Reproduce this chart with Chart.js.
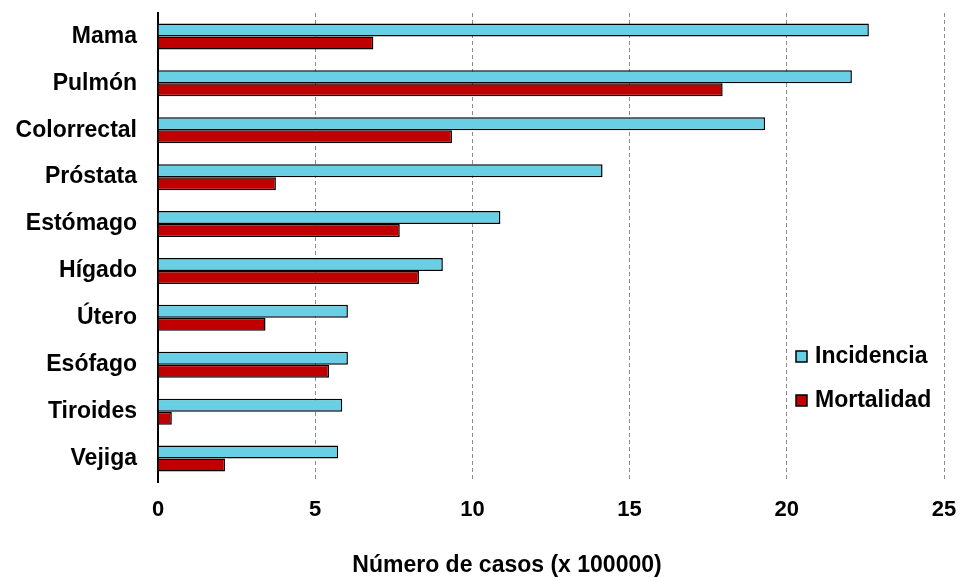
<!DOCTYPE html>
<html>
<head>
<meta charset="utf-8">
<script src="https://cdn.jsdelivr.net/npm/chart.js@4"></script>
<style>
  html, body { margin: 0; padding: 0; background: #fff; }
  #wrap { width: 960px; height: 580px; }
</style>
</head>
<body>
<div id="wrap"><canvas id="cancerChart" width="960" height="580"></canvas></div>
<script>
const categories = ["Mama", "Pulmón", "Colorrectal", "Próstata", "Estómago", "Hígado", "Útero", "Esófago", "Tiroides", "Vejiga"];
const incidencia = [22.61, 22.07, 19.31, 14.14, 10.89, 9.06, 6.04, 6.04, 5.86, 5.73];
const mortalidad = [6.85, 17.96, 9.35, 3.75, 7.69, 8.30, 3.42, 5.44, 0.44, 2.13];
const xMin = 0;
const xMax = 25;
const xStep = 5;
const xTitle = "Número de casos (x 100000)";

const fontFamily = "'Liberation Sans', Arial, sans-serif";

// draws the x axis title and the legend inside the plot area
const extras = {
    id: "extras",
    afterDraw(chart) {
        const ctx = chart.ctx;
        ctx.save();
        ctx.fillStyle = "#000";
        ctx.font = "bold 23px " + fontFamily;
        ctx.textAlign = "center";
        ctx.textBaseline = "middle";
        ctx.fillText(xTitle, 507, 566);

        const x = 796;
        let y = 357;
        ctx.textAlign = "left";
        chart.data.datasets.forEach(function (ds) {
            ctx.fillStyle = ds.backgroundColor;
            ctx.fillRect(x, y - 6, 11, 11);
            ctx.lineWidth = 1.5;
            ctx.strokeStyle = "#000";
            ctx.strokeRect(x, y - 6, 11, 11);
            ctx.fillStyle = "#000";
            ctx.fillText(ds.label, x + 19, y);
            y += 44;
        });
        ctx.restore();
    },
};

new Chart(document.getElementById("cancerChart"), {
    type: "bar",
    data: {
        labels: categories,
        datasets: [
            {
                label: "Incidencia",
                data: incidencia,
                backgroundColor: "#69CFE4",
                borderColor: "#000",
                borderWidth: 1.5,
            },
            {
                label: "Mortalidad",
                data: mortalidad,
                backgroundColor: "#C00000",
                borderColor: "#000",
                borderWidth: 1.5,
            },
        ],
    },
    options: {
        indexAxis: "y",
        responsive: false,
        animation: false,
        devicePixelRatio: 1,
        categoryPercentage: 0.555,
        barPercentage: 1.0,
        layout: { padding: { top: 13, right: 16, left: 0, bottom: 0 } },
        plugins: {
            legend: { display: false },
            tooltip: { enabled: false },
        },
        scales: {
            x: {
                min: xMin,
                max: xMax,
                ticks: {
                    stepSize: xStep,
                    color: "#000",
                    padding: 15,
                    font: { family: fontFamily, size: 22, weight: "bold" },
                },
                grid: { color: "#8c8c8c", lineWidth: 1, drawTicks: false },
                border: { display: false, dash: [4, 3] },
                afterFit(scale) {
                    scale.height = 98;
                    scale.paddingLeft = 0;
                    scale.paddingRight = 0;
                },
            },
            y: {
                ticks: {
                    color: "#000",
                    padding: 21,
                    font: { family: fontFamily, size: 23, weight: "bold" },
                },
                grid: { display: false, drawTicks: false },
                border: { display: true, color: "#000", width: 2 },
                afterFit(scale) {
                    scale.width = 158;
                    scale.paddingTop = 0;
                    scale.paddingBottom = 0;
                },
            },
        },
    },
    plugins: [extras],
});
</script>
</body>
</html>
